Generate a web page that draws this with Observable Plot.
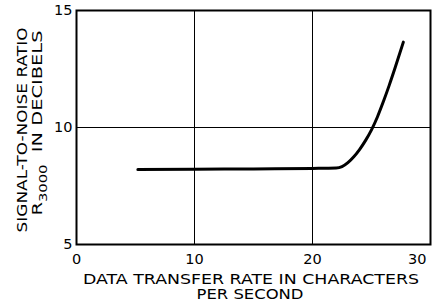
<!DOCTYPE html>
<html><head><meta charset="utf-8">
<script src="https://cdn.jsdelivr.net/npm/d3@7"></script>
<script src="https://cdn.jsdelivr.net/npm/@observablehq/plot@0.6"></script>
<style>body{margin:0;background:#fff}</style>
</head><body><div id="chart"></div>
<script>
const rate = [5.2, 10, 15, 20, 22, 22.5, 23, 23.5, 24, 24.5, 25, 25.5, 26, 26.5, 27, 27.7];
const snr  = [8.2, 8.22, 8.23, 8.25, 8.27, 8.33, 8.5, 8.75, 9.07, 9.45, 9.9, 10.45, 11.1, 11.8, 12.55, 13.65];
const xTicks = [0, 10, 20];
const xTickLast = [30];
const yTicks = [5, 10, 15];
const gridX = [10, 20];
const gridY = [10];
const data = rate.map((r, i) => ({r, s: snr[i]}));
const font = "DejaVu Sans";
const chart = Plot.plot({
  width: 433, height: 302,
  marginLeft: 76, marginRight: 3, marginTop: 10, marginBottom: 58,
  style: {fontFamily: font, fontSize: "14px", background: "#fff", color: "#000"},
  x: {domain: [0, 30], label: null},
  y: {domain: [5, 15], label: null},
  marks: [
    Plot.ruleX(gridX, {stroke: "#000", strokeWidth: 1}),
    Plot.ruleY(gridY, {stroke: "#000", strokeWidth: 1}),
    Plot.frame({stroke: "#000", strokeWidth: 2}),
    Plot.line(data, {x: "r", y: "s", curve: "monotone-x", stroke: "#000", strokeWidth: 3}),
    Plot.axisX({ticks: xTicks, tickSize: 0, tickPadding: 9, fontSize: 14.5}),
    Plot.axisX({ticks: xTickLast, tickSize: 0, tickPadding: 9, fontSize: 14.5, textAnchor: "end", dx: -4}),
    Plot.axisY({ticks: yTicks, tickSize: 0, tickPadding: 4, fontSize: 14.5})
  ]
});
const svg = d3.select(chart);
function lab(sel){ return sel.attr("font-family", font).attr("font-size", 14.5).attr("fill", "#000")
  .attr("lengthAdjust", "spacingAndGlyphs"); }
lab(svg.append("text")).attr("x", 251).attr("y", 284).attr("text-anchor", "middle")
  .attr("textLength", 336).text("DATA TRANSFER RATE IN CHARACTERS");
lab(svg.append("text")).attr("x", 250).attr("y", 299).attr("text-anchor", "middle")
  .attr("textLength", 107).text("PER SECOND");
lab(svg.append("text")).attr("transform", "translate(27,130) rotate(-90)").attr("text-anchor", "middle")
  .attr("textLength", 205).text("SIGNAL-TO-NOISE RATIO");
const t2 = svg.append("text").attr("transform", "translate(42,123) rotate(-90)").attr("text-anchor", "middle")
  .attr("font-family", font).attr("font-size", 14.5).attr("fill", "#000")
  .attr("textLength", 185).attr("lengthAdjust", "spacingAndGlyphs");
t2.append("tspan").text("R");
t2.append("tspan").attr("font-size", 11).attr("dy", 5).text("3000");
t2.append("tspan").attr("dy", -5).text("  IN DECIBELS");
document.getElementById("chart").append(chart);
</script></body></html>
